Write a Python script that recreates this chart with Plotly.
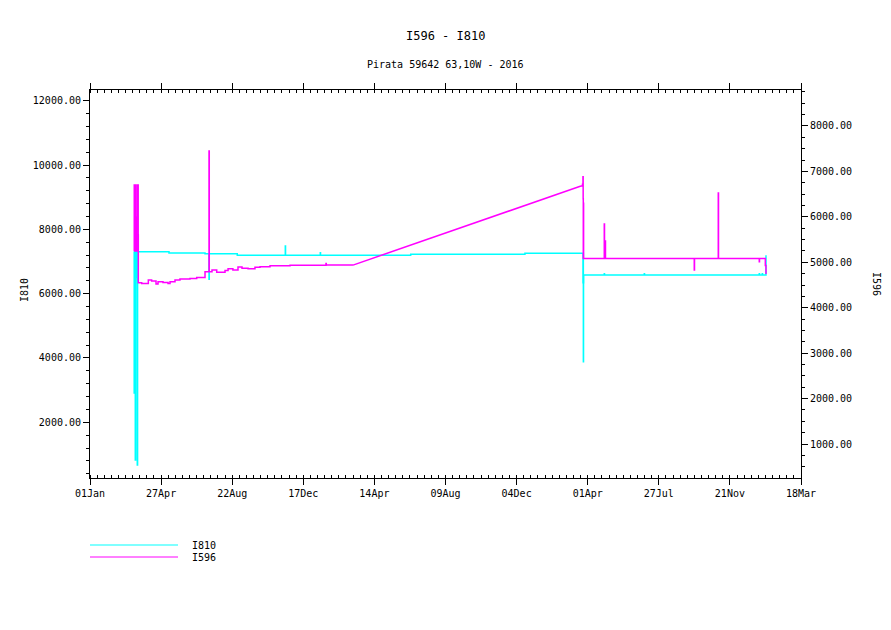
import plotly.graph_objects as go
import pandas as pd

# ---------------- data (day offsets since 2016-01-01 00:00) ----------------
BASE = "2016-01-01"

# I810 (left axis) - step samples
i810_day = [72.9, 73.2, 73.6, 74.0, 74.4, 75.0, 75.6, 76.2, 76.8, 77.3, 77.8, 78.3, 78.8,
            130.6, 190.0, 196.6, 197.0, 243.2, 322.4, 322.8, 380.1, 380.5, 529.2, 717.6,
            813.3, 813.6, 813.9, 814.2, 814.5, 848.4, 848.8, 914.4, 914.8,
            1104.0, 1104.4, 1109.0, 1109.4, 1115.1]
i810_val = [7300, 2910, 7300, 7000, 7300, 828, 7300, 6500, 7300, 6984, 7300, 670, 7305,
            7264, 7240, 6447, 7240, 7193, 7482, 7193, 7274, 7193, 7224, 7255,
            6340, 7255, 3880, 6340, 6580, 6620, 6580, 6620, 6580,
            6620, 6580, 6620, 6580, 7198]

# I596 (right axis) - step samples before the data gap
i596_day_a = [72.9, 73.3, 73.8, 74.3, 74.8, 75.3, 75.8, 76.4, 76.9, 77.4, 77.9, 78.4, 78.9,
              79.4, 79.8, 80.0, 85.6, 96.5, 102.0, 109.2, 112.5, 120.7, 129.0, 132.3,
              140.5, 148.7, 165.2, 176.3, 190.0, 196.6, 197.0, 201.5, 209.3, 223.0,
              228.0, 236.0, 244.4, 251.0, 261.0, 272.4, 280.7, 297.2, 330.2, 389.5,
              389.9, 434.0]
i596_val_a = [5250, 6700, 5300, 6700, 5250, 6700, 5300, 5990, 5250, 5950, 5300, 6700, 5250,
              6700, 5600, 4548, 4535, 4608, 4586, 4520, 4570, 4557, 4535, 4570,
              4608, 4630, 4645, 4667, 4791, 7449, 4791, 4828, 4778, 4820,
              4860, 4828, 4894, 4866, 4857, 4888, 4901, 4923, 4932, 4975,
              4938, 4938]
# I596 - step samples after the data gap
i596_day_b = [810.0, 812.5, 813.3, 813.6, 813.8, 814.0, 814.3, 848.4, 848.8, 850.0, 850.4,
              996.8, 997.2, 1036.4, 1036.8, 1104.0, 1104.4, 1114.0, 1115.1]
i596_val_b = [6678, 6720, 6880, 6400, 5086, 6300, 5086, 5841, 5086, 5467, 5086,
              4828, 5086, 6524, 5086, 5010, 5086, 4930, 4740]

# axis definition
axis_start_day = 0.33
axis_step_days = 117.25
x_tick_text = ["01Jan", "27Apr", "22Aug", "17Dec", "14Apr", "09Aug",
               "04Dec", "01Apr", "27Jul", "21Nov", "18Mar"]
left_range = [268, 12333]
right_range = [252, 8792]

title = "I596 - I810"
subtitle = "Pirata 59642 63,10W - 2016"

# ---------------- helpers ----------------
base = pd.Timestamp(BASE)


def to_dates(days):
    return [(base + pd.Timedelta(days=d)).strftime("%Y-%m-%d %H:%M:%S") for d in days]


x0 = base + pd.Timedelta(days=axis_start_day)
tick_dates = [(x0 + pd.Timedelta(days=axis_step_days * k)).strftime("%Y-%m-%d %H:%M:%S")
              for k in range(len(x_tick_text))]
x_range = [tick_dates[0], tick_dates[-1]]

CYAN = "#00FFFF"
MAGENTA = "#FF00FF"
FONT = "DejaVu Sans Mono"

fig = go.Figure()

fig.add_trace(go.Scatter(x=to_dates(i596_day_a), y=i596_val_a, mode="lines",
                         line=dict(color=MAGENTA, width=1.5, shape="hv"),
                         yaxis="y2", showlegend=False, name="I596"))
fig.add_trace(go.Scatter(x=to_dates([i596_day_a[-1], i596_day_b[0]]),
                         y=[i596_val_a[-1], i596_val_b[0]], mode="lines",
                         line=dict(color=MAGENTA, width=1.5),
                         yaxis="y2", showlegend=False, name="I596"))
fig.add_trace(go.Scatter(x=to_dates(i596_day_b), y=i596_val_b, mode="lines",
                         line=dict(color=MAGENTA, width=1.5, shape="hv"),
                         yaxis="y2", showlegend=False, name="I596"))
fig.add_trace(go.Scatter(x=to_dates(i810_day), y=i810_val, mode="lines",
                         line=dict(color=CYAN, width=1.5, shape="hv"),
                         yaxis="y", showlegend=False, name="I810"))

tickfont = dict(family=FONT, size=10, color="black")

# page has an 8px body margin: the figure is offset by 8px
OFF = 8
fig.update_layout(
    width=891 - OFF, height=630 - OFF,
    margin=dict(l=90 - OFF, r=90, t=90 - OFF, b=152),
    paper_bgcolor="white", plot_bgcolor="white",
    showlegend=False,
    xaxis=dict(
        type="date", range=x_range,
        tickmode="array", tickvals=tick_dates, ticktext=x_tick_text,
        showgrid=False, zeroline=False,
        showline=True, linecolor="black", linewidth=1, mirror="ticks",
        ticks="outside", ticklen=6, tickcolor="black", tickwidth=1,
        tickfont=tickfont,
        minor=dict(ticks="inside", ticklen=3, tickcolor="black",
                   tickmode="linear", tick0=tick_dates[0],
                   dtick=axis_step_days / 10 * 86400000, showgrid=False),
    ),
    yaxis=dict(
        range=left_range, tickmode="linear", tick0=0, dtick=2000, tickformat=".2f",
        showgrid=False, zeroline=False,
        showline=True, linecolor="black", linewidth=1,
        ticks="outside", ticklen=6, tickcolor="black",
        tickfont=tickfont,
        minor=dict(ticks="outside", ticklen=3, tickcolor="black", dtick=400, showgrid=False),
    ),
    yaxis2=dict(
        range=right_range, overlaying="y", side="right",
        tickmode="linear", tick0=0, dtick=1000, tickformat=".2f",
        showgrid=False, zeroline=False,
        showline=True, linecolor="black", linewidth=1,
        ticks="outside", ticklen=6, tickcolor="black",
        tickfont=tickfont,
        minor=dict(ticks="outside", ticklen=3, tickcolor="black", dtick=250, showgrid=False),
    ),
)

# window-pixel positions of the plot area (used to place annotations)
PL, PR, PT, PB = 90, 801, 90, 478


def px_to_paper(xp, yp):
    return (xp - PL) / (PR - PL), (PB - yp) / (PB - PT)


ann = []
for text, xp, yp, size, angle in [(title, 445, 36, 12, 0), (subtitle, 445, 64, 10, 0),
                                  ("I810", 24, 290, 10, -90), ("I596", 877, 284, 10, 90)]:
    xx, yy = px_to_paper(xp, yp)
    ann.append(dict(text=text, x=xx, y=yy, xref="paper", yref="paper", showarrow=False,
                    textangle=angle, xanchor="center", yanchor="middle",
                    font=dict(family=FONT, size=size, color="black")))

# legend drawn as shapes + labels
legend_items = [("I810", CYAN, 545), ("I596", MAGENTA, 557)]
shapes = []
for name, col, ypx in legend_items:
    xa, ya = px_to_paper(90, ypx)
    xb, _ = px_to_paper(178, ypx)
    shapes.append(dict(type="line", xref="paper", yref="paper", x0=xa, x1=xb, y0=ya, y1=ya,
                       line=dict(color=col, width=1)))
    xt, _ = px_to_paper(190, ypx)
    ann.append(dict(text=name, x=xt, y=ya, xref="paper", yref="paper", showarrow=False,
                    xanchor="left", yanchor="middle",
                    font=dict(family=FONT, size=10, color="black")))

fig.update_layout(annotations=ann, shapes=shapes)

fig.write_html("out.html")
